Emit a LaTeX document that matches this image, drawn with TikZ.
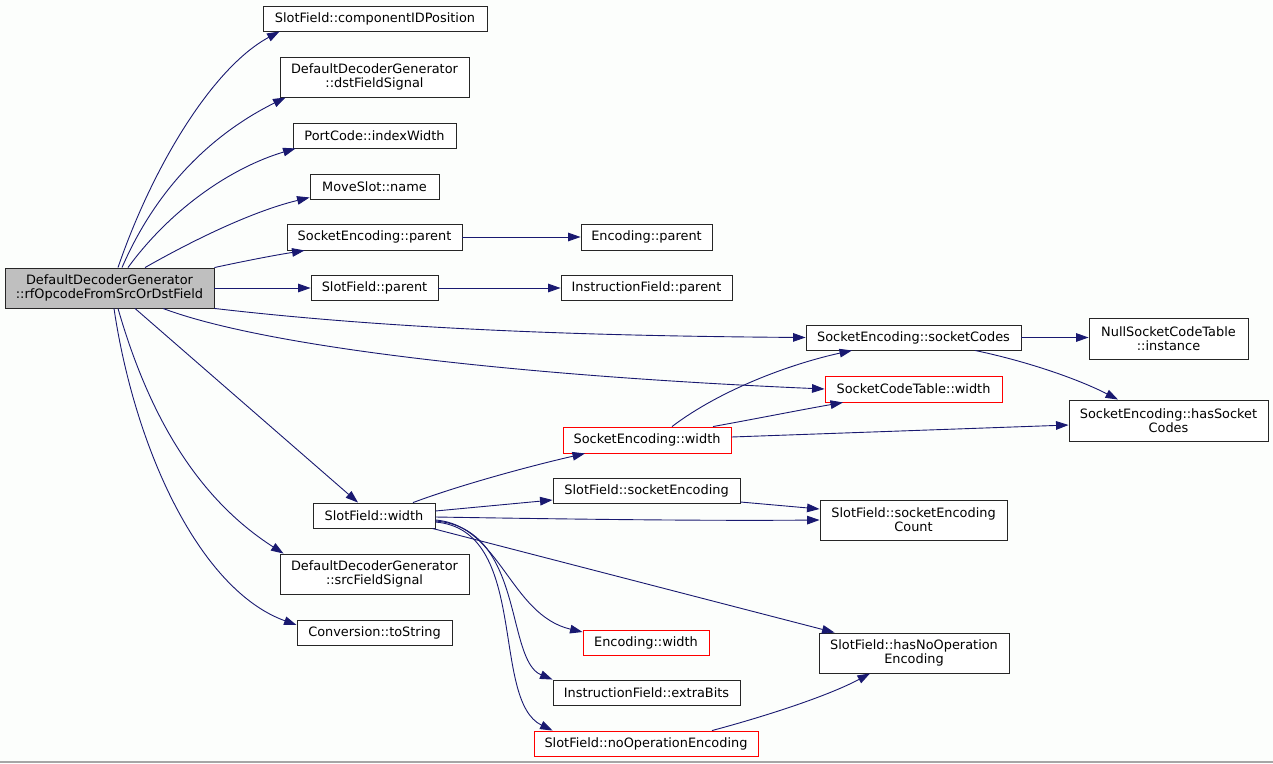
\documentclass[tikz,border=0pt]{standalone}
\usepackage{fontspec}
\setmainfont{DejaVu Sans}
\usetikzlibrary{arrows.meta}
\definecolor{edgeblue}{HTML}{191970}
\definecolor{nodegrey}{HTML}{BFBFBF}
\definecolor{bgcol}{HTML}{FCFEFC}
\tikzset{
  box/.style={draw=black!85, line width=0.9pt, inner sep=0pt, align=center,
    font=\fontsize{12.9}{14}\selectfont, fill=white},
  redbox/.style={box, draw=red},
  mainbox/.style={box, fill=nodegrey},
  edge/.style={draw=edgeblue, line width=0.9pt, -{Triangle[length=12.5pt,width=8.6pt]}}
}
\begin{document}
\begin{tikzpicture}[x=1pt,y=-1pt]
\fill[bgcol] (0,0) rectangle (1273,763);
\useasboundingbox (0,0) rectangle (1273,763);
\draw[gray!70, line width=1.5pt] (0,762.2) -- (1273,762.2);

% nodes
\node[mainbox, minimum width=209, minimum height=40] (main) at (109.5,288) {DefaultDecoderGenerator\\::rfOpcodeFromSrcOrDstField};
\node[box, minimum width=224, minimum height=25] (compID) at (375,18.5) {SlotField::componentIDPosition};
\node[box, minimum width=189, minimum height=40] (dst) at (374.5,77) {DefaultDecoderGenerator\\::dstFieldSignal};
\node[box, minimum width=163, minimum height=25] (idxw) at (374.5,135.5) {PortCode::indexWidth};
\node[box, minimum width=129, minimum height=25] (msname) at (374.5,186.5) {MoveSlot::name};
\node[box, minimum width=175, minimum height=26] (separent) at (374.5,237) {SocketEncoding::parent};
\node[box, minimum width=131, minimum height=26] (encparent) at (646.5,237) {Encoding::parent};
\node[box, minimum width=127, minimum height=25] (sfparent) at (374.5,288) {SlotField::parent};
\node[box, minimum width=171, minimum height=25] (ifparent) at (646.5,288) {InstructionField::parent};
\node[box, minimum width=215, minimum height=25] (sockcodes) at (913.5,337.5) {SocketEncoding::socketCodes};
\node[box, minimum width=159, minimum height=41] (nullinst) at (1168.5,338.5) {NullSocketCodeTable\\::instance};
\node[redbox, minimum width=177, minimum height=26] (sctwidth) at (913.5,389) {SocketCodeTable::width};
\node[box, minimum width=199, minimum height=41] (hassock) at (1168.5,420.5) {SocketEncoding::hasSocket\\Codes};
\node[redbox, minimum width=168, minimum height=26] (sewidth) at (647,440) {SocketEncoding::width};
\node[box, minimum width=187, minimum height=25] (sfsockenc) at (646.5,490.5) {SlotField::socketEncoding};
\node[box, minimum width=187, minimum height=40] (sfcount) at (913.5,520) {SlotField::socketEncoding\\Count};
\node[box, minimum width=122, minimum height=25] (sfwidth) at (374,515.5) {SlotField::width};
\node[box, minimum width=189, minimum height=40] (src) at (374.5,574) {DefaultDecoderGenerator\\::srcFieldSignal};
\node[box, minimum width=155, minimum height=25] (tostr) at (374.5,632.5) {Conversion::toString};
\node[redbox, minimum width=126, minimum height=25] (encwidth) at (646,642.5) {Encoding::width};
\node[box, minimum width=190, minimum height=40] (hasnoop) at (914,653) {SlotField::hasNoOperation\\Encoding};
\node[box, minimum width=187, minimum height=25] (extrabits) at (646.5,692.5) {InstructionField::extraBits};
\node[redbox, minimum width=224, minimum height=25] (noopenc) at (646,743.5) {SlotField::noOperationEncoding};

% edges from main
\draw[edge] ([xshift=8.5]main.north) .. controls (152,168) and (212,68) .. ([xshift=17]compID.south west);
\draw[edge] ([xshift=12.5]main.north) .. controls (160,180) and (220,130) .. ([xshift=6]dst.south west);
\draw[edge] ([xshift=18.5]main.north) .. controls (170,210) and (230,168) .. ([xshift=3]idxw.south west);
\draw[edge] ([xshift=35.5]main.north) .. controls (190,242) and (250,212) .. ([yshift=2]msname.south west);
\draw[edge] (main.north east) .. controls (240,262) and (270,256) .. ([xshift=18]separent.south west);
\draw[edge] (main.east) -- (sfparent.west);
\draw[edge] (main.south east) .. controls (400,330) and (600,336) .. (sockcodes.west);
\draw[edge] ([xshift=53.5]main.south) .. controls (260,345) and (500,375) .. (sctwidth.west);
\draw[edge] ([xshift=25.5]main.south) -- ([xshift=-16]sfwidth.north);
\draw[edge] ([xshift=8.5]main.south) .. controls (150,420) and (200,500) .. ([xshift=4]src.north west);
\draw[edge] ([xshift=4.5]main.south) .. controls (135,450) and (200,590) .. ([yshift=7.5]tostr.west);

% other edges
\draw[edge] (separent.east) -- (encparent.west);
\draw[edge] (sfparent.east) -- (ifparent.west);
\draw[edge] (sockcodes.east) -- (sockcodes.east -| nullinst.west);
\draw[edge] ([xshift=61.5]sockcodes.south) .. controls (1030,362) and (1080,380) .. ([xshift=-50.5]hassock.north);
\draw[edge] ([xshift=25]sewidth.north) .. controls (720,390) and (790,364) .. ([xshift=-61.5]sockcodes.south);
\draw[edge] ([xshift=66]sewidth.north) .. controls (760,418) and (800,410) .. ([xshift=-70.5]sctwidth.south);
\draw[edge] ([yshift=3]sewidth.east) -- ([yshift=-4.5]hassock.west);
\draw[edge] ([xshift=39]sfwidth.north) .. controls (460,485) and (530,466) .. ([xshift=-62]sewidth.south);
\draw[edge] ([yshift=4.5]sfwidth.east) -- ([yshift=-9.5]sfsockenc.west);
\draw[edge] ([yshift=-1.5]sfwidth.east) .. controls (560,519) and (700,521) .. (sfcount.west);
\draw[edge] ([yshift=-11.5]sfsockenc.east) -- ([yshift=11]sfcount.west);
\draw[edge] ([xshift=-3]sfwidth.south east) -- ([xshift=16]hasnoop.north west);
\draw[edge] ([xshift=66]noopenc.north) .. controls (770,715) and (830,695) .. ([xshift=-44]hasnoop.south);
\draw[edge] ([yshift=-4.5]sfwidth.east) .. controls (500,525) and (510,615) .. ([yshift=10.5]encwidth.west);
\draw[edge] ([yshift=-5.5]sfwidth.east) .. controls (525,528) and (505,660) .. (extrabits.north west);
\draw[edge] ([yshift=-6.5]sfwidth.east) .. controls (530,530) and (490,700) .. ([xshift=19]noopenc.north west);
\end{tikzpicture}
\end{document}
